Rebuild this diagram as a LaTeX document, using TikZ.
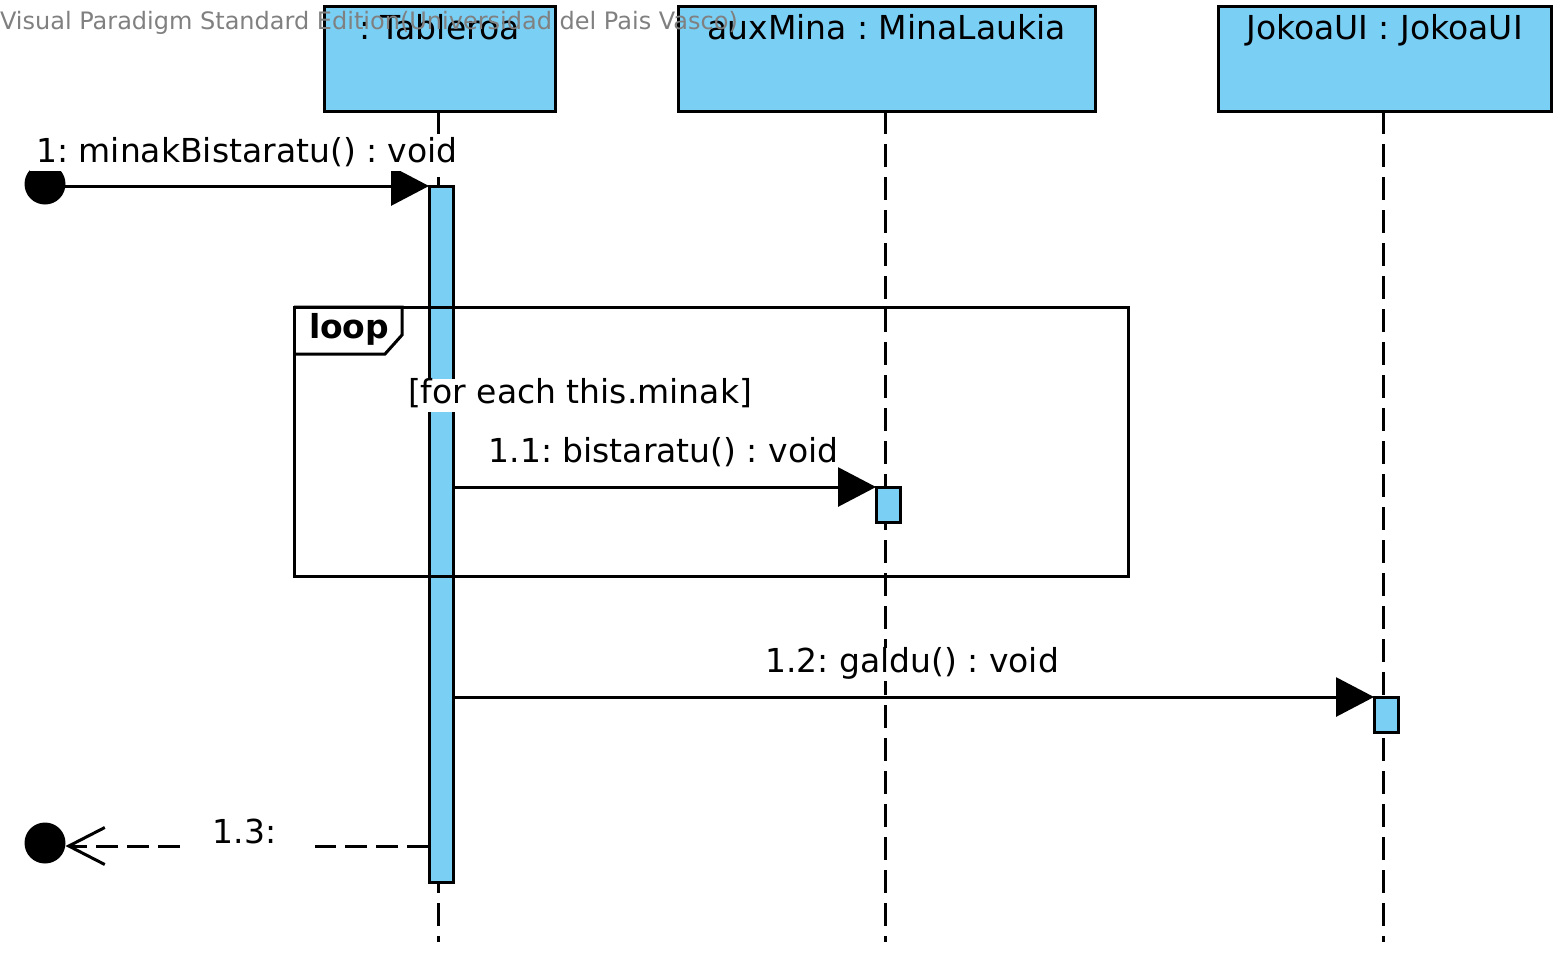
\documentclass[tikz,border=0pt]{standalone}
\usepackage{fontspec}
\setmainfont{DejaVu Sans}
\usetikzlibrary{arrows.meta,calc}
\definecolor{vpblue}{RGB}{122,207,245}
\definecolor{wmgray}{RGB}{128,128,128}
\begin{document}
\frenchspacing
\begin{tikzpicture}[x=0.5pt,y=-0.5pt,line width=1.5pt,
  every node/.style={font=\fontsize{16.5pt}{19pt}\selectfont\frenchspacing,inner sep=0pt,outer sep=0pt},
  head/.style={draw,fill=vpblue,rectangle,minimum height=52.5pt},
  act/.style={draw,fill=vpblue,rectangle,minimum width=12pt},
  lifeline/.style={dash pattern=on 11.5pt off 5pt},
  msg/.style={-{Triangle[length=19pt,width=19.5pt]}},
  ret/.style={dash pattern=on 11pt off 4.5pt},
  opentip/.style={-{Straight Barb[length=18pt,width=18.5pt,line width=1.5pt]}},
  lbl/.style={anchor=base,fill=white,text height=1em,text depth=0.24em,inner xsep=3pt,inner ysep=2pt},
  plain/.style={anchor=base},
  endpt/.style={circle,fill=black,minimum size=20.5pt}
]
\useasboundingbox (0,0) rectangle (1566,954);

% lifeline heads
\node[head,minimum width=115.5pt] (tab) at (439.5,58.5) {};
\node[head,minimum width=208.5pt] (mina) at (886.5,58.5) {};
\node[head,minimum width=166.5pt] (ui) at (1384.5,58.5) {};
\node[plain] (tabl) at ($(tab.north)+(0,33)$) {: Tableroa};
\node[plain] (minal) at ($(mina.north)+(0,33)$) {auxMina : MinaLaukia};
\node[plain] (uil) at ($(ui.north)+(0,33)$) {JokoaUI : JokoaUI};

% lifelines
\coordinate (tabTop) at ($(tab.south)+(-1.5,0)$);
\coordinate (minaTop) at ($(mina.south)+(-1.5,0)$);
\coordinate (uiTop) at ($(ui.south)+(-1.5,0)$);
\coordinate (tabEnd) at ($(tabTop)+(0,831)$);
\coordinate (minaEnd) at ($(minaTop)+(0,831)$);
\coordinate (uiEnd) at ($(uiTop)+(0,831)$);
\draw[lifeline] (tabTop) -- (tabEnd);
\draw[lifeline] (minaTop) -- (minaEnd);
\draw[lifeline] (uiTop) -- (uiEnd);

% activations
\node[act,minimum height=348pt] (a1) at (441,534) {};
\node[act,minimum height=17.5pt] (a2) at (888,504.5) {};
\node[act,minimum height=17.5pt] (a3) at (1386,714.5) {};

% found message 1
\node[endpt] (start) at (45,184) {};
\draw[msg] (start.center |- a1.north west) -- (a1.north west);
\node[lbl] (m1) at (247,162) {1: minakBistaratu() : void};

% loop fragment
\node[draw,minimum width=417pt,minimum height=134.5pt] (loop) at (711,441.5) {};
\draw (loop.north west) -- ++(108,0) -- ++(0,28) -- ++(-17,19) -- ++(-91,0);
\node[anchor=base west,font=\fontsize{16.5pt}{19pt}\selectfont\bfseries] (looplbl) at (309,338) {loop};
\node[lbl] (guard) at (580,403) {[for each this.minak]};

% message 1.1
\draw[msg] (a1.east |- a2.north west) -- (a2.north west);
\node[plain] (m11) at (663.5,462) {1.1: bistaratu() : void};

% message 1.2
\draw[msg] (a1.east |- a3.north west) -- (a3.north west);
\node[lbl] (m12) at (912,672) {1.2: galdu() : void};

% return 1.3
\node[endpt] (stop) at (45,843) {};
\coordinate (gapR) at (315,846);
\coordinate (gapL) at (180,846);
\draw[ret] (a1.west |- gapR) -- (gapR);
\draw[ret,opentip] (gapL) -- (stop.east |- gapL);
\node[plain] (m13) at (244.5,843) {1.3:};

% watermark (on top)
\node[anchor=base west,text=wmgray,font=\fontsize{12pt}{14pt}\selectfont\frenchspacing] (wm) at (0,29) {Visual Paradigm Standard Edition(Universidad del Pais Vasco)};
\end{tikzpicture}
\end{document}
